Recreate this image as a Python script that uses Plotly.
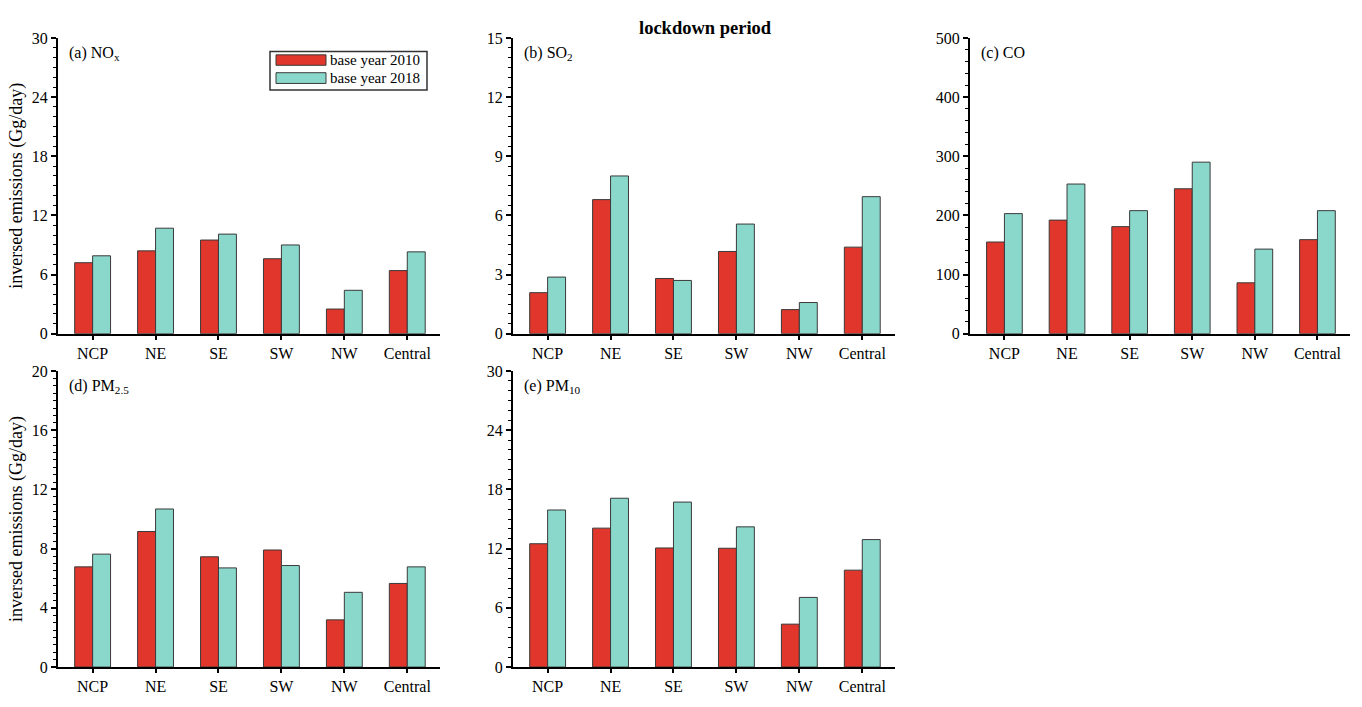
import plotly.graph_objects as go

# Regions and inversed emissions (Gg/day) for the lockdown period
regions = ["NCP", "NE", "SE", "SW", "NW", "Central"]

nox_2010 = [7.2, 8.4, 9.5, 7.6, 2.5, 6.4]
nox_2018 = [7.9, 10.7, 10.1, 9.0, 4.4, 8.3]

so2_2010 = [2.08, 6.8, 2.8, 4.17, 1.22, 4.39]
so2_2018 = [2.87, 8.0, 2.7, 5.56, 1.58, 6.95]

co_2010 = [155, 192, 181, 245, 86, 159]
co_2018 = [203, 253, 208, 290, 143, 208]

pm25_2010 = [6.77, 9.16, 7.45, 7.91, 3.19, 5.65]
pm25_2018 = [7.63, 10.68, 6.70, 6.86, 5.05, 6.77]

pm10_2010 = [12.5, 14.08, 12.07, 12.04, 4.35, 9.82]
pm10_2018 = [15.92, 17.11, 16.72, 14.21, 7.06, 12.92]

panels = [
    # label, values 2010, values 2018, y max, major step, minor step
    ("(a) NO<sub>x</sub>", nox_2010, nox_2018, 30, 6, 1),
    ("(b) SO<sub>2</sub>", so2_2010, so2_2018, 15, 3, 0.5),
    ("(c) CO", co_2010, co_2018, 500, 100, 20),
    ("(d) PM<sub>2.5</sub>", pm25_2010, pm25_2018, 20, 4, 0.5),
    ("(e) PM<sub>10</sub>", pm10_2010, pm10_2018, 30, 6, 1),
]

W, H = 1362, 707
RED = "#E0362C"
TEAL = "#8AD8CB"
EDGE = "#3a3a3a"
FONT = "Liberation Serif"

# pixel boxes of the panel plot areas (left, right, top, bottom)
col_x = [(58, 440), (513, 895), (970, 1350)]
row_y = [(30.7, 333.7), (372, 675.3)]


def px_x(v):
    return v / W


def px_y(v):
    return 1 - v / H


fig = go.Figure()
annotations = []
shapes = []

for i, (label, v10, v18, ymax, major, minor) in enumerate(panels):
    r, c = divmod(i, 3)
    n = i + 1
    xa = "x" if n == 1 else f"x{n}"
    ya = "y" if n == 1 else f"y{n}"
    fig.add_trace(go.Bar(
        x=regions, y=v10, name="base year 2010", xaxis=xa, yaxis=ya,
        marker=dict(color=RED, line=dict(color=EDGE, width=1)),
        showlegend=False, offsetgroup="a",
    ))
    fig.add_trace(go.Bar(
        x=regions, y=v18, name="base year 2018", xaxis=xa, yaxis=ya,
        marker=dict(color=TEAL, line=dict(color=EDGE, width=1)),
        showlegend=False, offsetgroup="b",
    ))
    x0, x1 = col_x[c]
    t, b = row_y[r]
    xkey = "xaxis" if n == 1 else f"xaxis{n}"
    ykey = "yaxis" if n == 1 else f"yaxis{n}"
    fig.layout[xkey] = dict(
        domain=[px_x(x0), px_x(x1)], anchor=ya, range=[-0.55, 5.52],
        showline=True, linecolor="black", linewidth=2,
        ticks="outside", ticklen=4, tickwidth=1.5, tickcolor="black",
        showgrid=False, zeroline=False,
        tickfont=dict(family=FONT, size=16, color="black"),
        fixedrange=True,
    )
    fig.layout[ykey] = dict(
        domain=[px_y(b), px_y(t)], anchor=xa, range=[0, ymax],
        tick0=0, dtick=major,
        showline=True, linecolor="black", linewidth=2,
        ticks="outside", ticklen=5, tickwidth=1.5, tickcolor="black",
        minor=dict(dtick=minor, ticks="outside", ticklen=3, tickwidth=1, tickcolor="black"),
        showgrid=False, zeroline=False,
        tickfont=dict(family=FONT, size=16, color="black"),
        fixedrange=True,
    )
    if c == 0:
        fig.layout[ykey].title = dict(
            text="inversed emissions (Gg/day)", standoff=4,
            font=dict(family=FONT, size=18, color="black"),
        )
    annotations.append(dict(
        text=label, xref="paper", yref="paper",
        x=px_x(x0 + 9), y=px_y(t + 4), xanchor="left", yanchor="top",
        showarrow=False, font=dict(family=FONT, size=16, color="black"),
    ))

# Title
annotations.append(dict(
    text="<b>lockdown period</b>", xref="paper", yref="paper",
    x=px_x(705), y=px_y(20), xanchor="center", yanchor="middle",
    showarrow=False, font=dict(family=FONT, size=18.5, color="black"),
))

# Legend box with wide swatches inside panel (a)
shapes.append(dict(type="rect", xref="paper", yref="paper",
                   x0=px_x(270), x1=px_x(427), y0=px_y(84), y1=px_y(44.5),
                   line=dict(color="#333333", width=1.5), fillcolor="white"))
for (ys0, ys1, col, txt) in [(48, 58.7, RED, "base year 2010"),
                             (66.3, 77.3, TEAL, "base year 2018")]:
    shapes.append(dict(type="rect", xref="paper", yref="paper",
                       x0=px_x(276), x1=px_x(326), y0=px_y(ys1), y1=px_y(ys0),
                       line=dict(color=EDGE, width=1), fillcolor=col))
    annotations.append(dict(
        text=txt, xref="paper", yref="paper",
        x=px_x(328), y=px_y((ys0 + ys1) / 2), xanchor="left", yanchor="middle",
        showarrow=False, font=dict(family=FONT, size=15, color="black"),
    ))

fig.update_layout(
    width=W, height=H,
    margin=dict(l=0, r=0, t=0, b=0),
    paper_bgcolor="white", plot_bgcolor="white",
    barmode="group", bargap=0.43, bargroupgap=0,
    font=dict(family=FONT, color="black"),
    annotations=annotations, shapes=shapes,
    showlegend=False,
)

fig.write_html("out.html")
